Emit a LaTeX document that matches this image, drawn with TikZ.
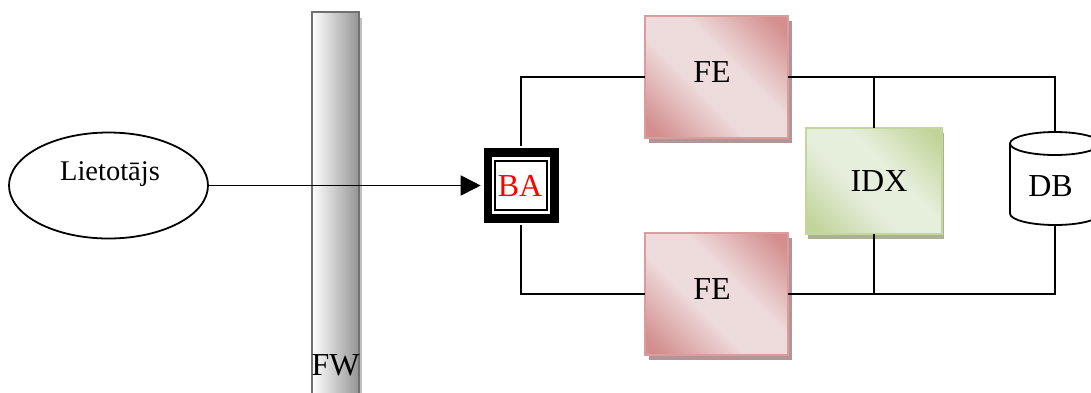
\documentclass[tikz,border=0pt]{standalone}
\usepackage{fontspec}
\setmainfont{Liberation Serif}
\usetikzlibrary{shapes.geometric,arrows.meta,shadows}
\definecolor{feDark}{HTML}{D48E8E}
\definecolor{feLight}{HTML}{EEDBDB}
\definecolor{feEdge}{HTML}{DB9C9C}
\definecolor{feShadow}{HTML}{B39598}
\definecolor{idxDark}{HTML}{C2D49A}
\definecolor{idxLight}{HTML}{E6EEDC}
\definecolor{idxEdge}{HTML}{C3D69B}
\definecolor{idxShadow}{HTML}{A9B295}
\pgfdeclareverticalshading{feShade}{100bp}{color(0bp)=(feDark);color(19bp)=(feDark);color(42bp)=(feLight);color(58bp)=(feLight);color(81bp)=(feDark);color(100bp)=(feDark)}
\pgfdeclareverticalshading{idxShade}{100bp}{color(0bp)=(idxDark);color(19bp)=(idxDark);color(42bp)=(idxLight);color(58bp)=(idxLight);color(81bp)=(idxDark);color(100bp)=(idxDark)}
\tikzset{
  conn/.style={draw=black,line width=1.8pt},
  connheavy/.style={draw=black,line width=2.4pt},
  lbl/.style={inner sep=0pt,font=\fontsize{32}{36}\selectfont},
  febox/.style={rectangle,draw=feEdge,line width=2pt,shading=feShade,shading angle=-45,
    minimum width=143pt,minimum height=122pt,inner sep=0pt,outer sep=0pt,
    drop shadow={shadow xshift=3.5pt,shadow yshift=-5pt,fill=feShadow,opacity=1}},
  idxbox/.style={rectangle,draw=idxEdge,line width=2pt,shading=idxShade,shading angle=-45,
    minimum width=136pt,minimum height=106pt,inner sep=0pt,outer sep=0pt,
    drop shadow={shadow xshift=2.5pt,shadow yshift=-5pt,fill=idxShadow,opacity=1}},
}
\begin{document}
\begin{tikzpicture}[x=1pt,y=-1pt]
\useasboundingbox (0,0) rectangle (1091,392);
\clip (0,0) rectangle (1091,392);
\fill[white] (0,0) rectangle (1091,392);
% firewall
\node[rectangle,draw=black!56,line width=2pt,left color=white,right color=black!42,
  minimum width=47pt,minimum height=400pt,inner sep=0pt,outer sep=0pt,
  drop shadow={shadow xshift=3pt,shadow yshift=-6pt,fill=black!25,opacity=1}] (fw) at (335.5,212) {};
\node[lbl] (fwlabel) at (335.5,365) {FW};
% user
\node[ellipse,draw=black,line width=1.8pt,fill=white,minimum width=199pt,minimum height=106pt,inner sep=0pt,outer sep=0pt] (user) at (108.5,185.5) {};
\node[lbl,font=\fontsize{28.5}{34}\selectfont] (userlabel) at (110,174) {Lietotājs};
% balancer
\node[rectangle,fill=black,minimum size=74.5pt,inner sep=0pt,outer sep=0pt] (baouter) at (521.3,185.5) {};
\node[rectangle,fill=white,minimum width=58pt,minimum height=57pt,inner sep=0pt,outer sep=0pt] (baring) at (521.3,185) {};
\node[rectangle,draw=black,line width=2pt,fill=white,minimum width=52pt,minimum height=49pt,inner sep=0pt,outer sep=0pt] (bainner) at (521.3,185.5) {};
\node[lbl,text=red] (balabel) at (520,186) {BA};
\coordinate (bawest) at (480.7,185.5);
\coordinate (banorth) at (521.3,146);
\coordinate (basouth) at (521.3,224.5);
% frontends
\node[febox] (fe1) at (716.5,77) {};
\node[lbl] (fe1label) at (712,72) {FE};
\node[febox] (fe2) at (716.5,294) {};
\node[lbl] (fe2label) at (712,289) {FE};
% index
\node[idxbox] (idx) at (873.7,180.5) {};
\node[lbl] (idxlabel) at (879,181) {IDX};
% database
\node[minimum width=90pt,minimum height=93pt,inner sep=0pt,outer sep=0pt] (db) at (1055,178.5) {};
\draw[conn] (1010,143.5) -- (1010,213.5) arc[x radius=45,y radius=11.5,start angle=180,end angle=0] -- (1100,143.5);
\draw[conn] (1055,143.5) ellipse [x radius=45,y radius=11.5];
\node[lbl] (dblabel) at (1050.5,186) {DB};
% connectors
\draw[conn,-{Triangle[length=20pt,width=20pt]}] (user.east) -- (bawest);
\draw[conn] (banorth) |- (fe1.west);
\draw[conn] (basouth) |- (fe2.west);
\draw[conn] (fe1.east) -| (db.north);
\draw[conn] (fe2.east) -| (db.south);
\draw[connheavy] (fe1.east) -- (idx.north |- fe1.east);
\draw[connheavy] (fe2.east) -- (idx.south |- fe2.east);
\draw[conn] (idx.north) -- (idx.north |- fe1.east);
\draw[conn] (idx.south) -- (idx.south |- fe2.east);
\end{tikzpicture}
\end{document}
